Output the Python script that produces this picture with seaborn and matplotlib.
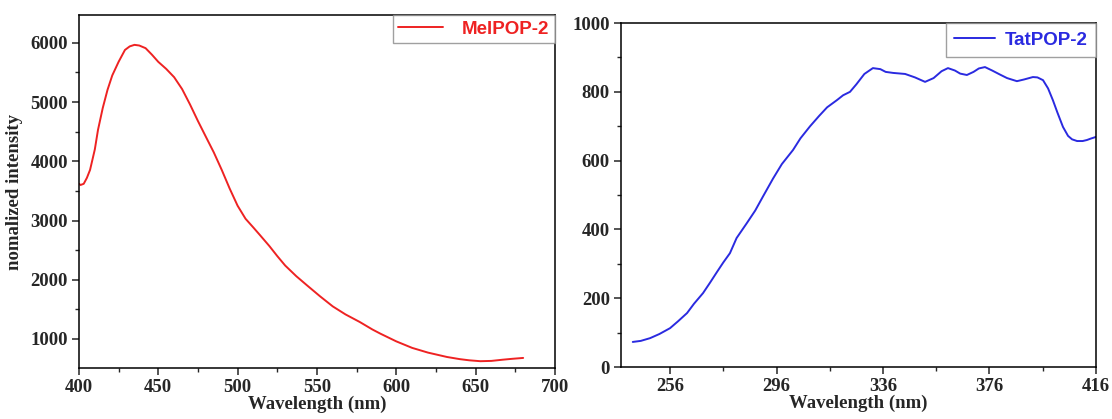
import matplotlib
matplotlib.use("Agg")
import matplotlib.pyplot as plt
import seaborn as sns
import pandas as pd
from matplotlib.ticker import MultipleLocator, FixedLocator

# ---- data ----
mel_wavelength = [400, 401, 403, 405, 407, 410, 412, 415, 418, 421, 425, 429, 432, 435,
                  438, 442, 446, 450, 455, 460, 465, 470, 475, 481, 485, 490, 495, 500,
                  505, 510, 514, 520, 525, 530, 537, 544, 552, 560, 568, 577, 585, 590,
                  600, 610, 620, 632, 640, 646, 653, 660, 667, 673, 680]
mel_intensity = [3620, 3600, 3620, 3720, 3855, 4200, 4530, 4900, 5206, 5450, 5680, 5880,
                 5940, 5966, 5955, 5910, 5800, 5679, 5560, 5420, 5220, 4960, 4680, 4361,
                 4150, 3855, 3540, 3250, 3030, 2880, 2757, 2570, 2400, 2240, 2060, 1900,
                 1720, 1550, 1415, 1287, 1160, 1090, 960, 850, 770, 696, 660, 640, 625,
                 630, 650, 665, 680]

tat_wavelength = [242, 245, 248.5, 252, 256, 259, 262.4, 265, 268.4, 271, 273.6, 276,
                  278.5, 281, 284.9, 288, 291, 294.7, 298, 302.2, 305, 308.6, 312, 315,
                  318.7, 321, 323.6, 326, 329, 332.2, 335, 337, 339.8, 344.3, 348, 351.8,
                  355, 358, 360.4, 363, 365, 367.5, 370, 372, 374.3, 377, 380, 382.6,
                  386.3, 389, 392.3, 394, 396.1, 398, 399.8, 401.5, 403.6, 405.5, 407,
                  408.9, 411, 412.6, 414, 416]
tat_intensity = [73, 76, 84, 96, 113, 133, 157, 184, 215, 245, 276, 304, 331, 375, 419,
                 455, 497, 548, 590, 631, 665, 700, 730, 755, 776, 790, 800, 822, 852, 869,
                 866, 858, 855, 852, 842, 829, 840, 860, 869, 862, 853, 849, 858, 868, 872,
                 862, 850, 840, 831, 836, 843, 842, 834, 810, 776, 740, 698, 672, 662, 657,
                 657, 660, 664, 669]

mel_df = pd.DataFrame({"Wavelength": mel_wavelength, "Intensity": mel_intensity})
tat_df = pd.DataFrame({"Wavelength": tat_wavelength, "Intensity": tat_intensity})

sns.set_style("ticks")
plt.rcParams["font.family"] = ["Liberation Serif", "DejaVu Serif"]
plt.rcParams["font.weight"] = "bold"
plt.rcParams["axes.labelweight"] = "bold"

fig = plt.figure(figsize=(11.12, 4.19), dpi=100)
ax1 = fig.add_axes([0.071, 0.1217, 0.428, 0.8425])
ax2 = fig.add_axes([0.5585, 0.124, 0.4271, 0.821])

sns.lineplot(data=mel_df, x="Wavelength", y="Intensity", ax=ax1, color="#ee2222",
             linewidth=1.4, label="MelPOP-2")
sns.lineplot(data=tat_df, x="Wavelength", y="Intensity", ax=ax2, color="#2a2ae0",
             linewidth=1.4, label="TatPOP-2")

ax1.set_xlim(400, 700)
ax1.set_ylim(510, 6470)
ax1.xaxis.set_major_locator(MultipleLocator(50))
ax1.xaxis.set_minor_locator(MultipleLocator(25))
ax1.yaxis.set_major_locator(FixedLocator([1000, 2000, 3000, 4000, 5000, 6000]))
ax1.yaxis.set_minor_locator(FixedLocator([500, 1500, 2500, 3500, 4500, 5500, 6500]))
ax1.set_xlabel("Wavelength (nm)", fontsize=13.5, fontweight="bold", labelpad=0)
ax1.set_ylabel("nomalized intensity", fontsize=13.5, fontweight="bold", labelpad=5)

ax2.set_xlim(237.6, 416)
ax2.set_ylim(0, 1000)
ax2.xaxis.set_major_locator(FixedLocator([256, 296, 336, 376, 416]))
ax2.xaxis.set_minor_locator(FixedLocator([276, 316, 356, 396]))
ax2.yaxis.set_major_locator(MultipleLocator(200))
ax2.yaxis.set_minor_locator(MultipleLocator(100))
ax2.set_xlabel("Wavelength (nm)", fontsize=13.5, fontweight="bold", labelpad=0)
ax2.set_ylabel("")

legend_opts = {
    ax1: dict(handlelength=2.4, handletextpad=1.0, borderpad=0.3),
    ax2: dict(handlelength=2.2, handletextpad=0.5, borderpad=0.45),
}
for ax, col in ((ax1, "#ee2222"), (ax2, "#2a2ae0")):
    for s in ax.spines.values():
        s.set_linewidth(1.1)
        s.set_color("black")
    ax.tick_params(which="major", direction="out", length=5, width=1.1,
                   labelsize=13.5, top=False, right=False, pad=3)
    ax.tick_params(which="minor", direction="out", length=3, width=1.0,
                   top=False, right=False)
    for lab in ax.get_xticklabels() + ax.get_yticklabels():
        lab.set_fontweight("bold")
    leg = ax.legend(loc="upper right", borderaxespad=0, fancybox=False,
                    frameon=True, prop={"weight": "bold", "size": 13.5,
                                        "family": ["Liberation Sans", "DejaVu Sans"]},
                    **legend_opts[ax])
    leg.get_frame().set_edgecolor("#888888")
    leg.get_frame().set_linewidth(1.0)
    for t in leg.get_texts():
        t.set_color(col)

fig.savefig("out.png", dpi=100)
